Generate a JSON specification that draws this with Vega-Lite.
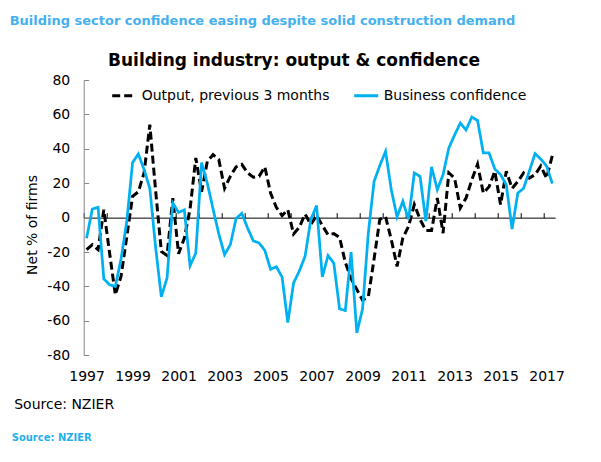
{
  "$schema": "https://vega.github.io/schema/vega-lite/v6.json",
  "padding": {"left": 9.7, "top": 15, "right": 5, "bottom": 5},
  "background": "white",
  "config": {
    "font": "DejaVu Sans",
    "view": {"stroke": null}
  },
  "title": {"text": "Source: NZIER", "orient": "bottom", "anchor": "start", "frame": "bounds", "font": "DejaVu Sans", "fontSize": 10, "fontWeight": "bold", "color": "#1FB0F0", "offset": 22, "dx": 2},
  "vconcat": [
    {
      "title": {"text": "Building sector confidence easing despite solid construction demand", "anchor": "start", "frame": "bounds", "font": "DejaVu Sans", "fontSize": 13, "fontWeight": "bold", "color": "#45B0EE", "offset": 24, "dx": -4},
      "vconcat": [
        {
          "title": {"text": "Building industry: output & confidence", "anchor": "middle", "frame": "bounds", "font": "DejaVu Sans", "fontSize": 17, "fontWeight": "bold", "color": "#000000", "offset": 3, "dx": 5},
          "width": 471.5,
          "height": 275.3,
          "data": {
            "values": [
              {"t": 1997.00, "output": -18.6, "confidence": -12},
              {"t": 1997.25, "output": -15.7, "confidence": 5},
              {"t": 1997.50, "output": -18.6, "confidence": 6},
              {"t": 1997.75, "output": 4.6, "confidence": -35.6},
              {"t": 1998.00, "output": -20.5, "confidence": -39},
              {"t": 1998.25, "output": -44.8, "confidence": -40},
              {"t": 1998.50, "output": -34, "confidence": -24},
              {"t": 1998.75, "output": -11, "confidence": -2},
              {"t": 1999.00, "output": 12.4, "confidence": 32},
              {"t": 1999.25, "output": 15, "confidence": 37},
              {"t": 1999.50, "output": 26, "confidence": 28},
              {"t": 1999.75, "output": 54, "confidence": 17},
              {"t": 2000.00, "output": 16, "confidence": -17},
              {"t": 2000.25, "output": -19.6, "confidence": -46},
              {"t": 2000.50, "output": -22, "confidence": -35},
              {"t": 2000.75, "output": 11.4, "confidence": 8.5},
              {"t": 2001.00, "output": -21, "confidence": 3},
              {"t": 2001.25, "output": -12, "confidence": 4.5},
              {"t": 2001.50, "output": 5, "confidence": -28},
              {"t": 2001.75, "output": 34.7, "confidence": -20.5},
              {"t": 2002.00, "output": 15, "confidence": 32},
              {"t": 2002.25, "output": 32.7, "confidence": 20},
              {"t": 2002.50, "output": 36.6, "confidence": 5},
              {"t": 2002.75, "output": 33.7, "confidence": -9.5},
              {"t": 2003.00, "output": 17, "confidence": -21.5},
              {"t": 2003.25, "output": 24, "confidence": -15.7},
              {"t": 2003.50, "output": 29.5, "confidence": -0.5},
              {"t": 2003.75, "output": 31, "confidence": 2.5},
              {"t": 2004.00, "output": 26, "confidence": -6},
              {"t": 2004.25, "output": 23.5, "confidence": -13.5},
              {"t": 2004.50, "output": 24, "confidence": -14.7},
              {"t": 2004.75, "output": 29.5, "confidence": -19},
              {"t": 2005.00, "output": 14.3, "confidence": -30},
              {"t": 2005.25, "output": 6, "confidence": -28.5},
              {"t": 2005.50, "output": 1.2, "confidence": -34.5},
              {"t": 2005.75, "output": 4.6, "confidence": -61},
              {"t": 2006.00, "output": -9.5, "confidence": -38},
              {"t": 2006.25, "output": -5.5, "confidence": -31},
              {"t": 2006.50, "output": 2, "confidence": -22.5},
              {"t": 2006.75, "output": -4, "confidence": -1},
              {"t": 2007.00, "output": 1.2, "confidence": 7},
              {"t": 2007.25, "output": -4.5, "confidence": -34.5},
              {"t": 2007.50, "output": -10, "confidence": -22},
              {"t": 2007.75, "output": -9.3, "confidence": -26.5},
              {"t": 2008.00, "output": -11.5, "confidence": -53},
              {"t": 2008.25, "output": -26, "confidence": -54},
              {"t": 2008.50, "output": -35.5, "confidence": -20},
              {"t": 2008.75, "output": -41.7, "confidence": -67},
              {"t": 2009.00, "output": -48, "confidence": -53},
              {"t": 2009.25, "output": -46, "confidence": -9},
              {"t": 2009.50, "output": -24, "confidence": 21},
              {"t": 2009.75, "output": -1, "confidence": 30.3},
              {"t": 2010.00, "output": 0.5, "confidence": 38.5},
              {"t": 2010.25, "output": -12.8, "confidence": 16.2},
              {"t": 2010.50, "output": -28.3, "confidence": 0.4},
              {"t": 2010.75, "output": -11.8, "confidence": 9.5},
              {"t": 2011.00, "output": -5, "confidence": -1},
              {"t": 2011.25, "output": 7.6, "confidence": 26},
              {"t": 2011.50, "output": -1, "confidence": 24},
              {"t": 2011.75, "output": -7.4, "confidence": -2},
              {"t": 2012.00, "output": -7.4, "confidence": 29.5},
              {"t": 2012.25, "output": 11.4, "confidence": 16.3},
              {"t": 2012.50, "output": -9, "confidence": 25},
              {"t": 2012.75, "output": 26, "confidence": 40.5},
              {"t": 2013.00, "output": 23, "confidence": 48},
              {"t": 2013.25, "output": 5.6, "confidence": 55},
              {"t": 2013.50, "output": 11.4, "confidence": 51},
              {"t": 2013.75, "output": 22, "confidence": 58.5},
              {"t": 2014.00, "output": 31, "confidence": 56.5},
              {"t": 2014.25, "output": 14.3, "confidence": 37.6},
              {"t": 2014.50, "output": 18, "confidence": 37.6},
              {"t": 2014.75, "output": 27, "confidence": 28.3},
              {"t": 2015.00, "output": 7.6, "confidence": 25},
              {"t": 2015.25, "output": 27, "confidence": 19},
              {"t": 2015.50, "output": 17, "confidence": -6.6},
              {"t": 2015.75, "output": 21, "confidence": 14.3},
              {"t": 2016.00, "output": 26, "confidence": 17},
              {"t": 2016.25, "output": 23, "confidence": 27},
              {"t": 2016.50, "output": 25, "confidence": 37.2},
              {"t": 2016.75, "output": 30, "confidence": 34},
              {"t": 2017.00, "output": 23, "confidence": 30},
              {"t": 2017.25, "output": 36, "confidence": 19.8}
            ]
          },
          "transform": [
            {"fold": ["output", "confidence"], "as": ["key", "value"]},
            {"lookup": "key", "from": {"data": {"values": [
              {"key": "output", "series": "Output, previous 3 months"},
              {"key": "confidence", "series": "Business confidence"}
            ]}, "key": "key", "fields": ["series"]}}
          ],
          "encoding": {
            "x": {"field": "t", "type": "quantitative", "scale": {"domain": [1996.875, 2017.375], "nice": false, "zero": false}},
            "y": {"field": "value", "type": "quantitative", "scale": {"domain": [-80, 80], "nice": false},
              "axis": {"values": [-80, -60, -40, -20, 0, 20, 40, 60, 80], "labelExpr": "datum.value < 0 ? '-' + abs(datum.value) : '' + datum.value", "grid": false, "domainColor": "#868686", "tickColor": "#868686", "tickSize": -5, "labelPadding": 19, "labelFontSize": 14, "labelColor": "#000000", "title": "Net % of firms", "titleFontSize": 14, "titleFontWeight": "normal", "titleColor": "#000000", "titlePadding": 7, "titleY": 144.5}},
            "color": {"field": "series", "type": "nominal", "scale": {"domain": ["Output, previous 3 months", "Business confidence"], "range": ["#000000", "#00B0F0"]},
              "legend": {"title": null, "orient": "none", "legendX": 27, "legendY": 2, "direction": "horizontal", "symbolType": "stroke", "symbolSize": 576, "symbolStrokeWidth": 3, "labelFontSize": 14, "labelColor": "#000000", "labelOffset": 4, "labelLimit": 400, "columnPadding": 18}},
            "strokeDash": {"field": "series", "type": "nominal", "scale": {"domain": ["Output, previous 3 months", "Business confidence"], "range": [[8, 4], [1, 0]]}, "legend": {"title": null}}
          },
          "layer": [
            {
              "transform": [{"filter": "datum.key == 'output'"}],
              "mark": {"type": "line", "strokeWidth": 3},
              "encoding": {
                "x": {"field": "t", "type": "quantitative", "scale": {"domain": [1996.875, 2017.375], "nice": false, "zero": false},
                  "axis": {"orient": "bottom", "values": [1997, 1999, 2001, 2003, 2005, 2007, 2009, 2011, 2013, 2015, 2017], "format": "d", "domain": false, "ticks": false, "grid": false, "labelPadding": 14, "labelFontSize": 14, "labelColor": "#000000", "title": "Source: NZIER", "titleX": -70, "titleY": 49, "titleAlign": "left", "titleBaseline": "middle", "titleFontSize": 14, "titleFontWeight": "normal", "titleColor": "#000000"}}
              }
            },
            {
              "transform": [{"filter": "datum.key == 'confidence'"}],
              "mark": {"type": "line", "strokeWidth": 2.75},
              "encoding": {
                "x": {"field": "t", "type": "quantitative", "scale": {"domain": [1996.875, 2017.375], "nice": false, "zero": false},
                  "axis": {"orient": "top", "offset": -137.65, "values": [1996.875, 1997.875, 1998.875, 1999.875, 2000.875, 2001.875, 2002.875, 2003.875, 2004.875, 2005.875, 2006.875, 2007.875, 2008.875, 2009.875, 2010.875, 2011.875, 2012.875, 2013.875, 2014.875, 2015.875, 2016.875], "labels": false, "grid": false, "domainColor": "#000000", "tickColor": "#000000", "tickSize": 5, "title": null}}
              }
            }
          ],
          "resolve": {"axis": {"x": "independent"}}
        }
      ]
    }
  ]
}
